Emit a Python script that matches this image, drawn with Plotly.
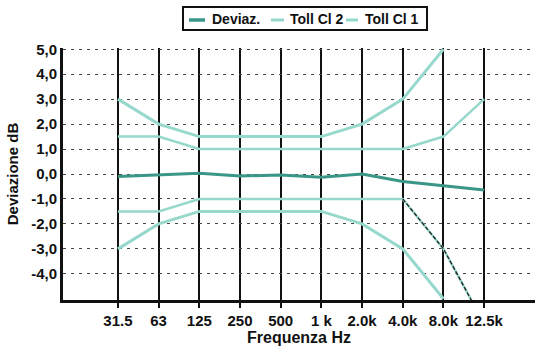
import plotly.graph_objects as go

freqs = ["31.5", "63", "125", "250", "500", "1 k", "2.0k", "4.0k", "8.0k", "12.5k"]
deviaz = [-0.1, -0.04, 0.03, -0.08, -0.04, -0.13, 0.0, -0.3, -0.48, -0.64]
cl2_upper = [3.0, 2.0, 1.5, 1.5, 1.5, 1.5, 2.0, 3.0, 5.0, None]
cl2_lower = [-3.0, -2.0, -1.5, -1.5, -1.5, -1.5, -2.0, -3.0, -5.0, None]
cl1_upper = [1.5, 1.5, 1.0, 1.0, 1.0, 1.0, 1.0, 1.0, 1.5, 3.0]
cl1_lower = [-1.5, -1.5, -1.0, -1.0, -1.0, -1.0, -1.0, -1.0, -3.0, -6.0]
y_ticks = [5, 4, 3, 2, 1, 0, -1, -2, -3, -4]
y_ticktext = ["5,0", "4,0", "3,0", "2,0", "1,0", "0,0", "-1,0", "-2,0", "-3,0", "-4,0"]
legend_names = ["Deviaz.", "Toll Cl 2", "Toll Cl 1"]

dark = "#3a9686"
light = "#97d8cd"
font = "Liberation Sans, Arial"
W, H = 535, 347
ML, MR, MT, MB = 63, 0, 48, 47
PW, PH = W - ML - MR, H - MT - MB

def px(x):
    return (x - ML) / PW

def py(y):
    return (H - MB - y) / PH

fig = go.Figure()
fig.add_trace(go.Scatter(x=freqs, y=deviaz, mode="lines", name=legend_names[0],
                         line=dict(color=dark, width=3)))
fig.add_trace(go.Scatter(x=freqs, y=cl2_upper, mode="lines", name=legend_names[1],
                         line=dict(color=light, width=3)))
fig.add_trace(go.Scatter(x=freqs, y=cl2_lower, mode="lines", name=legend_names[1],
                         line=dict(color=light, width=3)))
fig.add_trace(go.Scatter(x=freqs, y=cl1_upper, mode="lines", name=legend_names[2],
                         line=dict(color=light, width=2.5)))
fig.add_trace(go.Scatter(x=freqs, y=cl1_lower, mode="lines", name=legend_names[2],
                         line=dict(color=light, width=2.5)))
fig.add_trace(go.Scatter(x=freqs[7:], y=cl1_lower[7:], mode="lines",
                         line=dict(color="#222", width=1.3, dash="4px,2px"), hoverinfo="skip"))

# legend box (decoration)
shapes = [dict(type="rect", xref="paper", yref="paper", x0=px(183), x1=px(427),
               y0=py(30), y1=py(7), line=dict(color="#111", width=2), fillcolor="white", layer="above")]
legend_items = [(legend_names[0], dark, 3.5, 189, 205, 210),
                (legend_names[1], light, 3, 271, 284, 288),
                (legend_names[2], light, 3, 346, 358, 363)]
annotations = []
for name, col, w, a, b, t in legend_items:
    shapes.append(dict(type="line", xref="paper", yref="paper", x0=px(a), x1=px(b),
                       y0=py(20), y1=py(20), line=dict(color=col, width=w), layer="above"))
    annotations.append(dict(xref="paper", yref="paper", x=px(t), y=py(19), text=f"<b>{name}</b>",
                            showarrow=False, xanchor="left", yanchor="middle",
                            font=dict(family=font, size=14, color="#111")))

fig.update_layout(
    width=W, height=H,
    margin=dict(l=ML, r=MR, t=MT, b=MB),
    paper_bgcolor="white", plot_bgcolor="white",
    font=dict(family=font, size=12, color="#111"),
    showlegend=False,
    shapes=shapes, annotations=annotations,
    xaxis=dict(type="category", range=[-1.35, 10.25], showgrid=True, gridcolor="#111",
               gridwidth=2, showline=True, linecolor="#111", linewidth=3,
               ticks="outside", ticklen=5, tickwidth=2, tickcolor="#111",
               tickfont=dict(size=15, family=font, color="#111"),
               ticktext=[f"<b>{f}</b>" for f in freqs], tickvals=freqs,
               title=dict(text="<b>Frequenza Hz</b>", font=dict(size=16), standoff=4),
               zeroline=False, automargin=False),
    yaxis=dict(range=[-5.05, 5.05], tickvals=y_ticks, ticktext=[f"<b>{t}</b>" for t in y_ticktext],
               showgrid=True, gridcolor="#444", gridwidth=1.3, griddash="3px,5px",
               showline=True, linecolor="#111", linewidth=3, ticks="",
               tickfont=dict(size=15, family=font, color="#111"),
               title=dict(text="<b>Deviazione dB</b>", font=dict(size=15), standoff=9),
               zeroline=False, automargin=False),
)

fig.write_html("out.html", config={"displayModeBar": False},
               post_script="document.body.style.margin='0';")
